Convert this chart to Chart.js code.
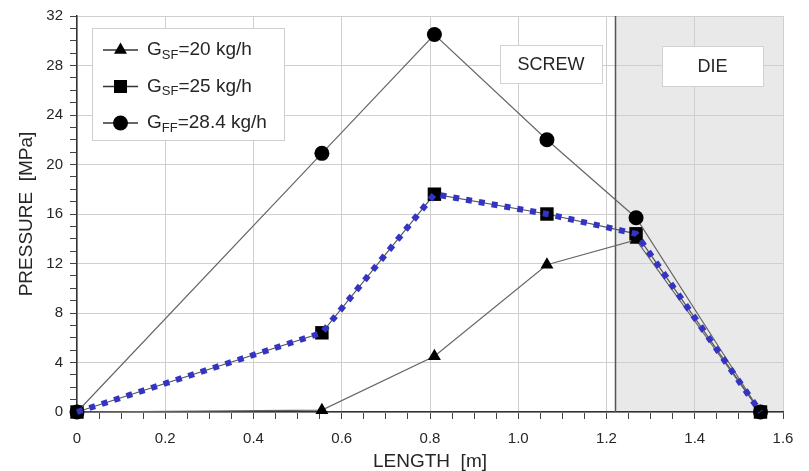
<!DOCTYPE html>
<html>
<head>
<meta charset="utf-8">
<script src="https://cdn.jsdelivr.net/npm/chart.js"></script>
<style>
  body { margin: 0; background: #fff; }
  #wrap { position: relative; width: 809px; height: 471px; }
</style>
</head>
<body>
<div id="wrap"><canvas id="chart"></canvas></div>
<script>
// positions along the extruder [m]
const lengthM = [0, 0.555, 0.81, 1.065, 1.267, 1.549];
// pressure [MPa]
const pSF20 = [0, 0.15, 4.5, 11.9, 13.9, 0];
const pSF25 = [0, 6.4, 17.6, 16.0, 14.4, 0];
const pFF284 = [0, 20.9, 30.5, 22.0, 15.7, 0];

const legendItems = [
  { main: 'G', sub: 'SF', rest: '=20 kg/h', style: 'triangle' },
  { main: 'G', sub: 'SF', rest: '=25 kg/h', style: 'rect' },
  { main: 'G', sub: 'FF', rest: '=28.4 kg/h', style: 'circle' }
];
const dieStart = 1.22;
const zoneLabels = ['SCREW', 'DIE'];

const FONT = "'Liberation Sans', Arial, sans-serif";
const TEXT = '#262626';

const toXY = (ys) => ys.map((y, i) => ({ x: lengthM[i], y: y }));

function marker(ctx, style, x, y) {
  ctx.fillStyle = '#000';
  ctx.beginPath();
  if (style === 'triangle') {
    const r = 7.5;
    ctx.moveTo(x, y - r);
    ctx.lineTo(x + r * 0.866, y + r * 0.5);
    ctx.lineTo(x - r * 0.866, y + r * 0.5);
    ctx.closePath();
  } else if (style === 'rect') {
    ctx.rect(x - 6.5, y - 6.5, 13, 13);
  } else {
    ctx.arc(x, y, 7.5, 0, Math.PI * 2);
  }
  ctx.fill();
}

const decorPlugin = {
  id: 'decor',
  beforeDraw(chart) {
    const { ctx, chartArea, scales } = chart;
    const xd = scales.x.getPixelForValue(dieStart);
    ctx.save();
    ctx.fillStyle = '#e9e9e9';
    ctx.fillRect(xd, chartArea.top, chartArea.right - xd, chartArea.bottom - chartArea.top);
    ctx.restore();
  },
  beforeDatasetsDraw(chart) {
    const { ctx, chartArea, scales } = chart;
    const xd = Math.round(scales.x.getPixelForValue(dieStart)) + 0.5;
    ctx.save();
    ctx.strokeStyle = '#555';
    ctx.lineWidth = 1.5;
    ctx.beginPath();
    ctx.moveTo(xd, chartArea.top);
    ctx.lineTo(xd, chartArea.bottom);
    ctx.stroke();

    // zone label boxes
    const boxes = [
      { x: 500, y: 45, w: 102, h: 38, t: zoneLabels[0] },
      { x: 662, y: 46, w: 101, h: 40, t: zoneLabels[1] }
    ];
    ctx.font = '18px ' + FONT;
    ctx.textAlign = 'center';
    ctx.textBaseline = 'middle';
    boxes.forEach(b => {
      ctx.fillStyle = '#fff';
      ctx.fillRect(b.x + 0.5, b.y + 0.5, b.w, b.h);
      ctx.strokeStyle = '#d2d2d2';
      ctx.lineWidth = 1;
      ctx.strokeRect(b.x + 0.5, b.y + 0.5, b.w, b.h);
      ctx.fillStyle = TEXT;
      ctx.fillText(b.t, b.x + b.w / 2, b.y + b.h / 2 + 1);
    });
    ctx.restore();
  },
  afterDraw(chart) {
    const { ctx } = chart;
    ctx.save();
    ctx.fillStyle = '#fff';
    ctx.fillRect(92.5, 28.5, 192, 112);
    ctx.strokeStyle = '#cfcfcf';
    ctx.lineWidth = 1;
    ctx.strokeRect(92.5, 28.5, 192, 112);
    legendItems.forEach((it, i) => {
      const y = 50 + i * 36.5;
      ctx.strokeStyle = '#333';
      ctx.lineWidth = 1.5;
      ctx.beginPath();
      ctx.moveTo(103, y);
      ctx.lineTo(138, y);
      ctx.stroke();
      marker(ctx, it.style, 120.5, y);
      ctx.fillStyle = TEXT;
      ctx.textBaseline = 'middle';
      ctx.textAlign = 'left';
      let x = 147;
      ctx.font = '19px ' + FONT;
      ctx.fillText(it.main, x, y);
      x += ctx.measureText(it.main).width;
      ctx.font = '13px ' + FONT;
      ctx.fillText(it.sub, x, y + 5);
      x += ctx.measureText(it.sub).width;
      ctx.font = '19px ' + FONT;
      ctx.fillText(it.rest, x, y);
    });
    ctx.restore();
  }
};

const isMajorX = (v) => Math.round(v * 100) % 20 === 0;
const isMajorY = (v) => Math.round(v) % 4 === 0;

new Chart(document.getElementById('chart'), {
  type: 'line',
  data: {
    datasets: [
      {
        label: 'model',
        data: toXY(pSF25),
        borderColor: '#3434c4',
        borderWidth: 6,
        borderDash: [6, 7],
        pointRadius: 0,
        order: 0
      },
      {
        label: 'GSF=20 kg/h',
        data: toXY(pSF20),
        borderColor: '#666',
        borderWidth: 1.2,
        pointStyle: 'triangle',
        pointRadius: 7.5,
        pointBackgroundColor: '#000',
        pointBorderColor: '#000',
        pointBorderWidth: 0,
        order: 3
      },
      {
        label: 'GSF=25 kg/h',
        data: toXY(pSF25),
        borderColor: '#555',
        borderWidth: 1.2,
        pointStyle: 'rect',
        pointRadius: 9.5,
        pointBackgroundColor: '#000',
        pointBorderColor: '#000',
        pointBorderWidth: 0,
        order: 2
      },
      {
        label: 'GFF=28.4 kg/h',
        data: toXY(pFF284),
        borderColor: '#666',
        borderWidth: 1.2,
        pointStyle: 'circle',
        pointRadius: 7.5,
        pointBackgroundColor: '#000',
        pointBorderColor: '#000',
        pointBorderWidth: 0,
        order: 1
      }
    ]
  },
  options: {
    responsive: true,
    maintainAspectRatio: false,
    animation: false,
    clip: false,
    layout: { padding: { top: 16, right: 26, left: 0, bottom: 0 } },
    plugins: { legend: { display: false }, tooltip: { enabled: false } },
    scales: {
      x: {
        type: 'linear',
        min: 0,
        max: 1.6,
        afterFit: (s) => { s.height = 59; },
        border: { color: '#333', width: 1.5 },
        grid: {
          color: (c) => isMajorX(c.tick.value) ? '#cfcfcf' : 'rgba(0,0,0,0)',
          tickColor: '#444',
          tickLength: 7,
          lineWidth: 1
        },
        ticks: {
          stepSize: 0.05,
          autoSkip: false,
          maxRotation: 0,
          padding: 11,
          color: TEXT,
          font: { family: FONT, size: 15 },
          callback: (v) => isMajorX(v) ? (v === 0 ? '0' : v.toFixed(1)) : ''
        },
        title: {
          display: true,
          text: 'LENGTH  [m]',
          color: TEXT,
          font: { family: FONT, size: 19, lineHeight: 1 },
          padding: { top: 0, bottom: 0 }
        }
      },
      y: {
        min: 0,
        max: 32,
        afterFit: (s) => { s.width = 77; },
        border: { color: '#333', width: 1.5 },
        grid: {
          color: (c) => isMajorY(c.tick.value) ? '#cfcfcf' : 'rgba(0,0,0,0)',
          tickColor: '#444',
          tickLength: 7,
          lineWidth: 1
        },
        ticks: {
          stepSize: 1,
          autoSkip: false,
          padding: 7,
          color: TEXT,
          font: { family: FONT, size: 15 },
          callback: (v) => isMajorY(v) ? String(v) : ''
        },
        title: {
          display: true,
          text: 'PRESSURE  [MPa]',
          color: TEXT,
          font: { family: FONT, size: 19, lineHeight: 1 },
          padding: { top: 17, bottom: 0 }
        }
      }
    }
  },
  plugins: [decorPlugin]
});
</script>
</body>
</html>
